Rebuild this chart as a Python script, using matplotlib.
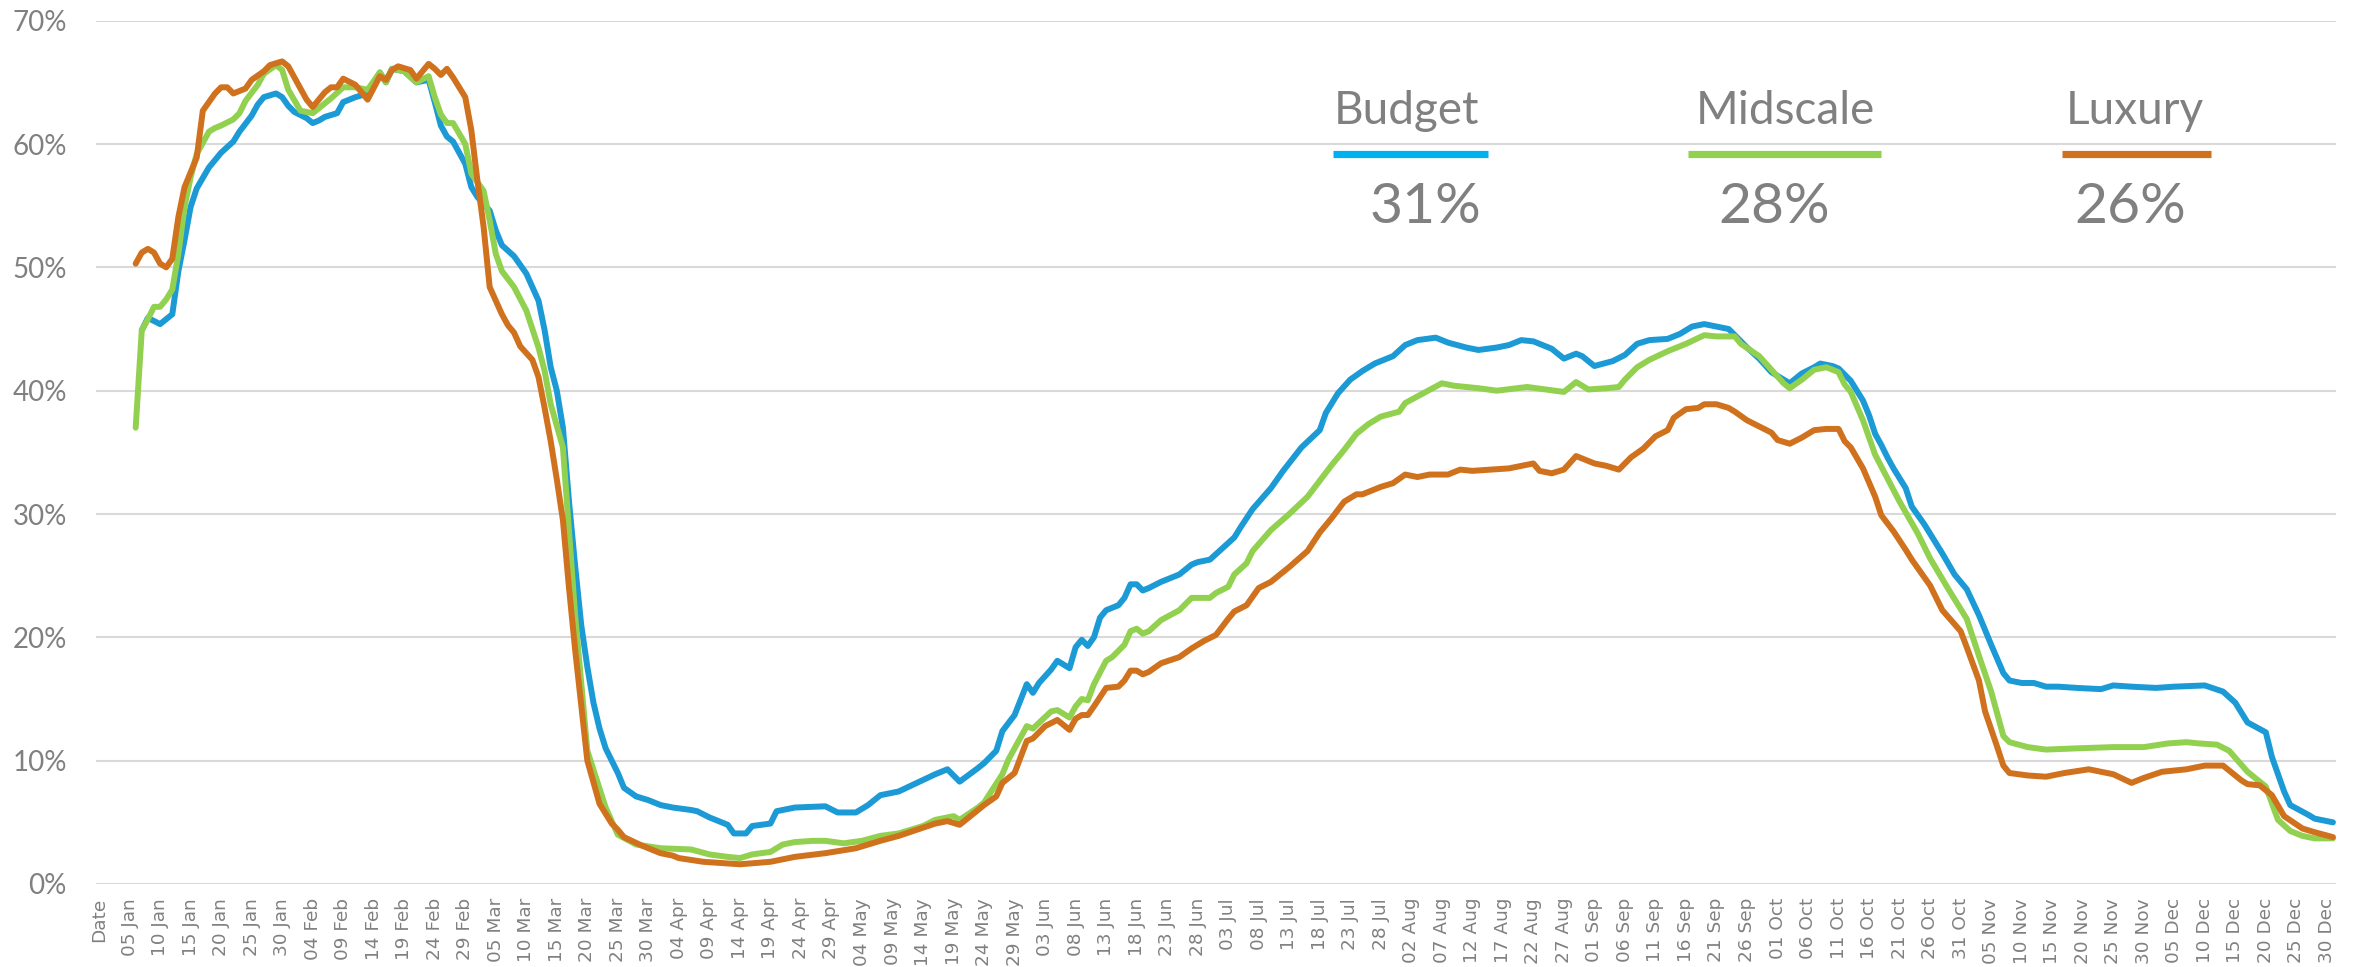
import matplotlib
matplotlib.use("Agg")
import matplotlib.pyplot as plt
from matplotlib.lines import Line2D
import pandas as pd

# ---------------- data ----------------
dates = pd.date_range("2020-01-01", "2020-12-31", freq="D")
categories = ["Date"] + [d.strftime("%d %b") for d in dates]
tick_positions = list(range(0, len(categories), 5))
tick_labels = [categories[i] for i in tick_positions]

y_ticks = [0, 10, 20, 30, 40, 50, 60, 70]
y_tick_labels = ["0%", "10%", "20%", "30%", "40%", "50%", "60%", "70%"]

series_names = ["Budget", "Midscale", "Luxury"]
series_avgs = ["31%", "28%", "26%"]
line_colors = ["#1B9AD6", "#92D050", "#D0711D"]
bar_colors = ["#00B0F0", "#92D050", "#D0711D"]

# (category index, occupancy %)
budget = [(7,44.9),(8,45.9),(10,45.4),(11,45.8),(12,46.2),(13,49.7),(14,52.2),(15,54.9),(16,56.4),(18,58.1),
          (19,58.7),(20,59.3),(22,60.2),(23,61.0),(25,62.3),(26,63.2),(27,63.8),(29,64.1),(30,63.8),(31,63.1),
          (32,62.6),(34,62.1),(35,61.7),(36,61.9),(37,62.2),(39,62.5),(40,63.4),(41,63.6),(42,63.8),(44,64.1),
          (46,65.8),(47,65.0),(48,66.1),(50,65.9),(52,65.0),(54,65.2),(55,63.4),(56,61.5),(57,60.6),(58,60.2),
          (60,58.4),(61,56.5),(62,55.7),(64,54.6),(65,53.0),(66,51.8),(68,50.9),(70,49.5),(72,47.3),(73,44.9),
          (74,41.9),(75,40.0),(76,37.0),(77,31.0),(78,25.8),(79,21.0),(80,17.6),(81,14.7),(82,12.6),(83,11.0),
          (85,9.0),(86,7.8),(88,7.1),(90,6.8),(92,6.4),(94,6.2),(97,6.0),(98,5.9),(100,5.4),(103,4.8),
          (104,4.1),(106,4.1),(107,4.7),(110,4.9),(111,5.9),(114,6.2),(119,6.3),(121,5.8),(124,5.8),(126,6.4),
          (128,7.2),(131,7.5),(134,8.2),(137,8.9),(139,9.3),(141,8.3),(144,9.4),(145,9.8),(147,10.8),(148,12.4),
          (150,13.7),(152,16.2),(153,15.5),(154,16.3),(156,17.4),(157,18.1),(159,17.5),(160,19.2),(161,19.8),(162,19.3),
          (163,20.0),(164,21.6),(165,22.2),(167,22.6),(168,23.2),(169,24.3),(170,24.3),(171,23.8),(172,24.0),(174,24.5),
          (177,25.1),(179,25.9),(180,26.1),(182,26.3),(184,27.2),(186,28.1),(187,28.9),(189,30.4),(192,32.1),(194,33.5),
          (197,35.4),(200,36.8),(201,38.2),(203,39.8),(205,40.9),(207,41.6),(209,42.2),(212,42.8),(214,43.7),(216,44.1),
          (219,44.3),(221,43.9),(224,43.5),(226,43.3),(229,43.5),(231,43.7),(233,44.1),(235,44.0),(238,43.4),(240,42.6),
          (242,43.0),(243,42.8),(245,42.0),(248,42.4),(250,42.9),(252,43.8),(254,44.1),(257,44.2),(259,44.6),(261,45.2),
          (263,45.4),(265,45.2),(267,45.0),(268,44.5),(270,43.5),(272,42.6),(274,41.5),(276,40.9),(277,40.6),(279,41.4),
          (281,41.9),(282,42.2),(284,42.0),(285,41.8),(287,40.8),(289,39.2),(290,38.0),(291,36.5),(292,35.6),(293,34.6),
          (294,33.7),(296,32.1),(297,30.6),(299,29.2),(302,26.8),(304,25.1),(306,23.9),(308,21.8),(310,19.4),(312,17.1),
          (313,16.5),(315,16.3),(317,16.3),(319,16.0),(321,16.0),(324,15.9),(328,15.8),(330,16.1),(333,16.0),(337,15.9),
          (340,16.0),(345,16.1),(348,15.6),(350,14.7),(352,13.1),(355,12.3),(356,10.3),(358,7.5),(359,6.4),(362,5.6),
          (363,5.3),(366,5.0)]

midscale = [(6,37.0),(7,44.9),(8,45.8),(9,46.8),(10,46.8),(11,47.4),(12,48.2),(13,51.1),(14,54.9),(15,57.3),
            (16,59.2),(18,61.0),(19,61.3),(20,61.5),(22,62.0),(23,62.5),(24,63.5),(26,64.8),(27,65.7),(29,66.4),
            (30,66.0),(31,64.4),(33,62.7),(35,62.5),(36,62.9),(38,63.7),(40,64.6),(42,64.6),(44,64.4),(46,65.8),
            (47,65.0),(48,66.1),(50,65.9),(52,65.0),(54,65.5),(55,63.8),(56,62.4),(57,61.7),(58,61.7),(60,60.0),
            (61,57.6),(63,56.2),(64,53.8),(65,51.1),(66,49.7),(68,48.4),(70,46.5),(72,43.5),(73,41.6),(74,38.9),
            (76,35.4),(78,21.8),(80,10.8),(83,6.2),(85,4.0),(88,3.2),(92,2.9),(97,2.8),(100,2.4),(103,2.2),
            (105,2.1),(107,2.4),(110,2.6),(112,3.2),(114,3.4),(117,3.5),(119,3.5),(122,3.3),(125,3.5),(128,3.9),
            (131,4.1),(135,4.7),(137,5.2),(140,5.5),(141,5.2),(144,6.2),(145,6.6),(148,8.9),(149,10.1),(152,12.8),
            (153,12.6),(156,14.0),(157,14.1),(159,13.5),(160,14.4),(161,15.0),(162,14.9),(163,16.2),(165,18.1),(166,18.4),
            (168,19.4),(169,20.5),(170,20.7),(171,20.3),(172,20.5),(174,21.4),(177,22.2),(179,23.2),(182,23.2),(183,23.6),
            (185,24.1),(186,25.1),(188,26.0),(189,27.0),(192,28.7),(195,30.0),(198,31.4),(200,32.7),(202,34.0),(204,35.2),
            (206,36.5),(208,37.3),(210,37.9),(213,38.3),(214,39.0),(217,39.8),(220,40.6),(222,40.4),(226,40.2),(229,40.0),
            (234,40.3),(237,40.1),(240,39.9),(242,40.7),(244,40.1),(247,40.2),(249,40.3),(250,40.9),(252,41.9),(254,42.5),
            (257,43.2),(260,43.8),(263,44.5),(265,44.4),(268,44.4),(269,43.8),(272,42.8),(274,41.7),(276,40.6),(277,40.2),
            (279,40.9),(281,41.7),(283,41.9),(285,41.5),(286,40.5),(287,39.9),(289,37.6),(291,34.8),(293,32.9),(295,31.0),
            (298,28.4),(300,26.4),(303,23.9),(306,21.5),(308,18.5),(310,15.6),(312,12.0),(313,11.5),(316,11.1),(319,10.9),
            (324,11.0),(330,11.1),(335,11.1),(339,11.4),(342,11.5),(344,11.4),(347,11.3),(349,10.8),(352,9.1),(355,7.9),
            (357,5.2),(359,4.3),(361,3.9),(363,3.7),(366,3.7)]

luxury = [(6,50.3),(7,51.2),(8,51.5),(9,51.2),(10,50.3),(11,50.0),(12,50.7),(13,54.1),(14,56.5),(16,58.9),
          (17,62.7),(19,64.1),(20,64.6),(21,64.6),(22,64.1),(24,64.5),(25,65.2),(27,65.9),(28,66.4),(30,66.7),
          (31,66.3),(33,64.5),(34,63.6),(35,63.0),(36,63.6),(37,64.2),(38,64.6),(39,64.6),(40,65.3),(42,64.8),
          (44,63.6),(46,65.5),(47,65.2),(48,66.0),(49,66.3),(51,66.0),(52,65.3),(54,66.5),(55,66.1),(56,65.6),
          (57,66.1),(58,65.4),(60,63.8),(61,61.1),(62,57.0),(63,53.3),(64,48.4),(66,46.2),(67,45.3),(68,44.7),
          (69,43.6),(71,42.5),(72,41.1),(73,38.6),(74,35.9),(75,32.8),(76,29.5),(77,24.0),(78,19.0),(79,14.5),
          (80,10.0),(82,6.5),(84,4.9),(85,4.4),(86,3.8),(89,3.1),(92,2.5),(94,2.3),(95,2.1),(99,1.8),
          (105,1.6),(110,1.8),(114,2.2),(119,2.5),(124,2.9),(128,3.5),(131,3.9),(134,4.4),(137,4.9),(139,5.1),
          (141,4.8),(144,6.0),(145,6.4),(147,7.1),(148,8.2),(150,9.0),(152,11.6),(153,11.8),(155,12.8),(157,13.3),
          (159,12.5),(160,13.4),(161,13.7),(162,13.7),(163,14.4),(165,15.9),(167,16.0),(168,16.5),(169,17.3),(170,17.3),
          (171,17.0),(172,17.2),(174,17.9),(177,18.4),(179,19.1),(181,19.7),(183,20.2),(185,21.5),(186,22.1),(188,22.6),
          (190,24.0),(192,24.5),(195,25.7),(198,27.0),(200,28.5),(202,29.7),(204,31.0),(206,31.6),(207,31.6),(210,32.2),
          (212,32.5),(214,33.2),(216,33.0),(218,33.2),(221,33.2),(223,33.6),(225,33.5),(228,33.6),(231,33.7),(233,33.9),
          (235,34.1),(236,33.5),(238,33.3),(240,33.6),(242,34.7),(245,34.1),(247,33.9),(249,33.6),(251,34.6),(253,35.3),
          (255,36.3),(257,36.8),(258,37.8),(260,38.5),(262,38.6),(263,38.9),(265,38.9),(267,38.6),(268,38.3),(270,37.6),
          (272,37.1),(274,36.6),(275,36.0),(277,35.7),(279,36.2),(281,36.8),(283,36.9),(285,36.9),(286,35.9),(287,35.4),
          (289,33.7),(291,31.4),(292,29.9),(294,28.6),(296,27.1),(297,26.3),(298,25.6),(300,24.2),(302,22.2),(305,20.5),
          (306,19.2),(308,16.5),(309,14.0),(311,11.1),(312,9.6),(313,9.0),(316,8.8),(319,8.7),(322,9.0),(326,9.3),
          (330,8.9),(333,8.2),(335,8.6),(338,9.1),(342,9.3),(345,9.6),(348,9.6),(351,8.4),(352,8.1),(354,8.0),
          (356,7.2),(358,5.5),(361,4.5),(363,4.2),(366,3.8)]

series = [budget, midscale, luxury]

# ---------------- layout ----------------
W, H = 2369, 967
fig = plt.figure(figsize=(W / 100, H / 100), dpi=100)
fig.patch.set_facecolor("white")
ax_left, ax_right, ax_top, ax_bottom = 96, 2336, 20.7, 884
ax = fig.add_axes([ax_left / W, 1 - ax_bottom / H, (ax_right - ax_left) / W, (ax_bottom - ax_top) / H])

grey = "#808080"
for data, col in zip(series, line_colors):
    xs = [p[0] for p in data]
    ys = [p[1] for p in data]
    ax.plot(xs, ys, color=col, lw=4.3, solid_joinstyle="round", solid_capstyle="round", zorder=3)

ax.set_xlim(-0.5, len(categories) - 0.5)
ax.set_ylim(0, 70)
ax.set_yticks(y_ticks)
ax.set_yticklabels(y_tick_labels, fontfamily="Lato", fontsize=20, color=grey)
ax.set_xticks(tick_positions)
ax.set_xticklabels(tick_labels, rotation=90, fontfamily="DejaVu Sans", fontsize=13.3, color=grey)
ax.tick_params(axis="y", length=0, pad=21)
ax.tick_params(axis="x", length=0, pad=10)
ax.yaxis.grid(True, color="#D9D9D9", lw=1.5, zorder=0)
ax.set_axisbelow(True)
for s in ax.spines.values():
    s.set_visible(False)

# ---------------- legend-like header ----------------
name_cx = [1406, 1785, 2135]
avg_cx = [1425, 1774, 2130]
bar_x = [(1333, 1488), (1688, 1881), (2062, 2211)]
for name, avg, bc, ncx, acx, (bx0, bx1) in zip(series_names, series_avgs, bar_colors, name_cx, avg_cx, bar_x):
    fig.text(ncx / W, 1 - 124 / H, name, ha="center", va="baseline",
             fontfamily="Lato", fontsize=33, color=grey)
    fig.add_artist(Line2D([bx0 / W, bx1 / W], [1 - 153.5 / H] * 2, lw=5.2,
                          color=bc, solid_capstyle="butt"))
    fig.text(acx / W, 1 - 223 / H, avg, ha="center", va="baseline",
             fontfamily="Lato", fontsize=41, color=grey)

fig.savefig("out.png", dpi=100, facecolor="white")
